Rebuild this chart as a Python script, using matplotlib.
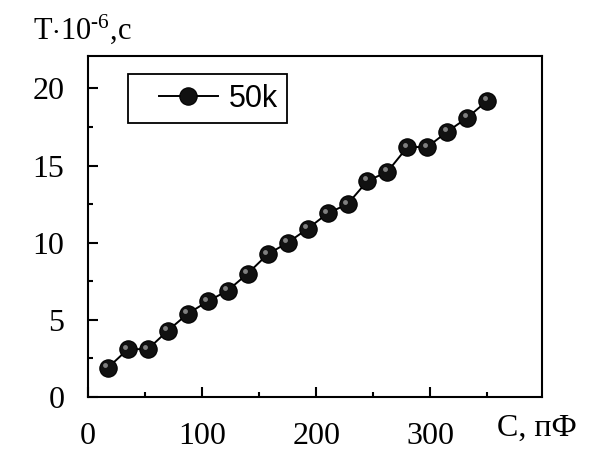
import matplotlib.pyplot as plt
from matplotlib.ticker import MultipleLocator
from matplotlib.legend_handler import HandlerLine2D
import matplotlib.transforms as mtransforms

plt.rcParams['font.family'] = 'Liberation Serif'
plt.rcParams['mathtext.fontset'] = 'custom'
plt.rcParams['mathtext.rm'] = 'Liberation Serif'
plt.rcParams['mathtext.it'] = 'Liberation Serif'

# capacitance, pF
cap = [17.5, 35, 52.5, 70, 87.5, 105, 122.5, 140, 157.5, 175,
       192.5, 210, 227.5, 245, 262.5, 280, 297.5, 315, 332.5, 350]
# period, 10^-6 s
period = [1.9, 3.1, 3.1, 4.3, 5.4, 6.2, 6.9, 8.0, 9.25, 10.0,
          10.9, 11.9, 12.5, 14.0, 14.6, 16.2, 16.2, 17.2, 18.1, 19.2]
series_name = '50k'

fig = plt.figure(figsize=(5.97, 4.53), dpi=100)
ax = fig.add_axes([0.1474, 0.1236, 0.7605, 0.7528])

line, = ax.plot(cap, period, color='black', lw=1.4, marker='o', ms=12.5,
                mfc='#111111', mec='black', mew=0.8, label=series_name)
# highlight spot for a sphere-like look
shift = mtransforms.offset_copy(ax.transData, fig=fig, x=-1.8, y=1.8, units='points')
ax.plot(cap, period, ls='none', marker='o', ms=3.5, mfc='#8c8c8c', mec='none',
        alpha=0.9, transform=shift)

ax.set_xlim(0, 398)
ax.set_ylim(0, 22.1)
ax.xaxis.set_major_locator(MultipleLocator(100))
ax.xaxis.set_minor_locator(MultipleLocator(50))
ax.yaxis.set_major_locator(MultipleLocator(5))
ax.yaxis.set_minor_locator(MultipleLocator(2.5))
ax.tick_params(which='both', direction='in', width=1.5, labelsize=23)
ax.tick_params(which='major', length=7)
ax.tick_params(which='minor', length=3.5)
ax.tick_params(axis='y', pad=17)
ax.tick_params(axis='x', pad=18)
for sp in ax.spines.values():
    sp.set_linewidth(1.5)

leg = ax.legend(loc='upper left', bbox_to_anchor=(0.088, 0.946), frameon=True,
                fancybox=False, edgecolor='black', framealpha=1,
                prop={'family': 'Liberation Sans', 'size': 22},
                handlelength=2.66, handletextpad=0.33, borderpad=0.3,
                borderaxespad=0, handler_map={line: HandlerLine2D(xpad=0.7)})
leg.get_frame().set_linewidth(1.3)

fig.text(0.055, 0.915, r'T$\cdot$10$^{\text{-6}}$,с', fontsize=22, ha='left', va='baseline')
fig.text(0.832, 0.055, 'С, пФ', fontsize=23, ha='left', va='center')

fig.savefig('out.png', dpi=100)
